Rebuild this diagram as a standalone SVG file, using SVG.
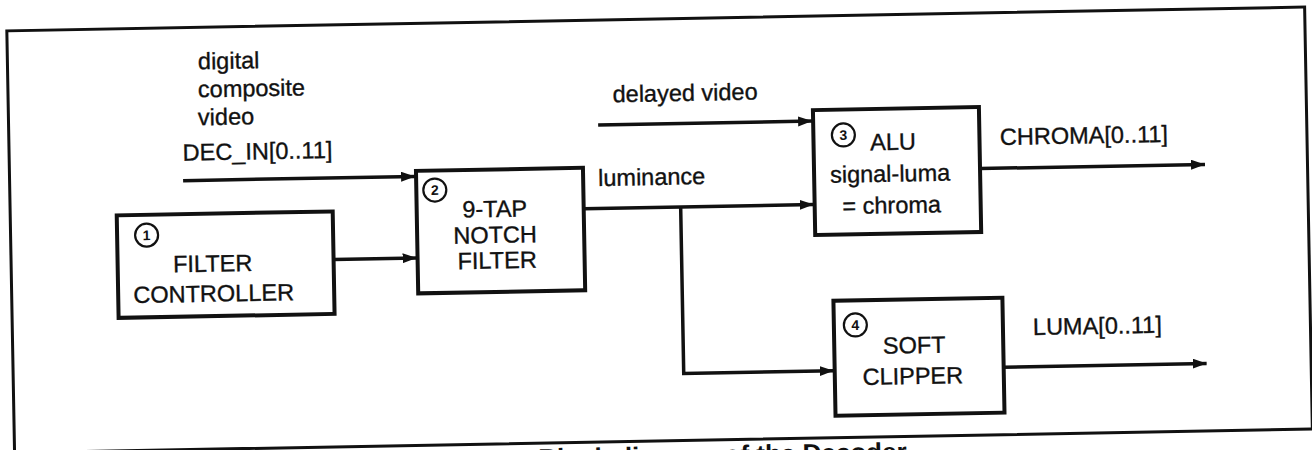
<svg xmlns="http://www.w3.org/2000/svg" width="1312" height="450" viewBox="0 0 1312 450">
  <defs>
    <style>
      .box { fill: #fff; stroke: #111; stroke-width: 4; }
      .frame { fill: none; stroke: #111; stroke-width: 3; }
      .wire { fill: none; stroke: #111; stroke-width: 3.5; }
      .t { font-family: "Liberation Sans", Arial, Helvetica, sans-serif; font-size: 23.5px; fill: #111; stroke: #111; stroke-width: 0.35; }
      .c { text-anchor: middle; }
      .num { fill: none; stroke: #111; stroke-width: 2.2; }
      .numt { font-family: "Liberation Sans", Arial, Helvetica, sans-serif; font-size: 14px; font-weight: bold; fill: #111; text-anchor: middle; }
      .cap { font-family: "Liberation Sans", Arial, Helvetica, sans-serif; font-size: 26px; font-weight: bold; fill: #111; }
    </style>
    <marker id="arr" markerUnits="userSpaceOnUse" markerWidth="15" markerHeight="11" refX="14" refY="5" orient="auto">
      <path d="M0,0 L14,5 L0,10 z" fill="#111"/>
    </marker>
  </defs>
  <rect width="1312" height="450" fill="#fff"/>
  <g transform="rotate(-1.05 656 225)">
    <rect class="frame" x="10.5" y="19" width="1298" height="422"/>
    <text class="cap" x="534" y="465">Block diagram of the Decoder</text>

    <g id="connectors">
      <line class="wire" x1="184" y1="172" x2="416" y2="172" marker-end="url(#arr)"/>
      <line class="wire" x1="333" y1="253.5" x2="416" y2="253.5" marker-end="url(#arr)"/>
      <line class="wire" x1="584" y1="207.5" x2="814" y2="207.5" marker-end="url(#arr)"/>
      <polyline class="wire" points="681,207.5 681,374 831,374" marker-end="url(#arr)"/>
      <line class="wire" x1="600" y1="124" x2="814" y2="124" marker-end="url(#arr)"/>
      <line class="wire" x1="981" y1="174.5" x2="1206" y2="174.5" marker-end="url(#arr)"/>
      <line class="wire" x1="1001" y1="373.5" x2="1204" y2="373.5" marker-end="url(#arr)"/>
    </g>

    <g id="labels">
      <text class="t" x="201" y="61">digital</text>
      <text class="t" x="200.5" y="89">composite</text>
      <text class="t" x="200" y="117">video</text>
      <text class="t" x="184" y="152">DEC_IN[0..11]</text>
      <text class="t" x="615" y="101.5">delayed video</text>
      <text class="t" x="599" y="185">luminance</text>
      <text class="t" x="1001.5" y="151.3">CHROMA[0..11]</text>
      <text class="t" x="1031" y="342">LUMA[0..11]</text>
    </g>

    <g id="node1">
      <rect class="box" x="117" y="205.5" width="216" height="102.5"/>
      <circle class="num" cx="146.5" cy="225.8" r="11.5"/>
      <text class="numt" x="146.5" y="230.8">1</text>
      <text class="t c" x="212" y="263.5">FILTER</text>
      <text class="t c" x="212.5" y="293.5">CONTROLLER</text>
    </g>

    <g id="node2">
      <rect class="box" x="417" y="166.5" width="167" height="122.5"/>
      <circle class="num" cx="435.5" cy="186" r="11.5"/>
      <text class="numt" x="435.5" y="191">2</text>
      <text class="t c" x="495" y="214">9-TAP</text>
      <text class="t c" x="495" y="240">NOTCH</text>
      <text class="t c" x="496.5" y="265.5">FILTER</text>
    </g>

    <g id="node3">
      <rect class="box" x="815" y="113" width="166" height="125"/>
      <circle class="num" cx="845" cy="138.4" r="11.5"/>
      <text class="numt" x="845" y="143.4">3</text>
      <text class="t c" x="894.5" y="154.3">ALU</text>
      <text class="t c" x="891" y="186">signal-luma</text>
      <text class="t c" x="892" y="217.6">= chroma</text>
    </g>

    <g id="node4">
      <rect class="box" x="832" y="304" width="169" height="115"/>
      <circle class="num" cx="853.5" cy="328.6" r="11.5"/>
      <text class="numt" x="853.5" y="333.6">4</text>
      <text class="t c" x="912" y="358">SOFT</text>
      <text class="t c" x="910" y="388.7">CLIPPER</text>
    </g>
  </g>
</svg>
